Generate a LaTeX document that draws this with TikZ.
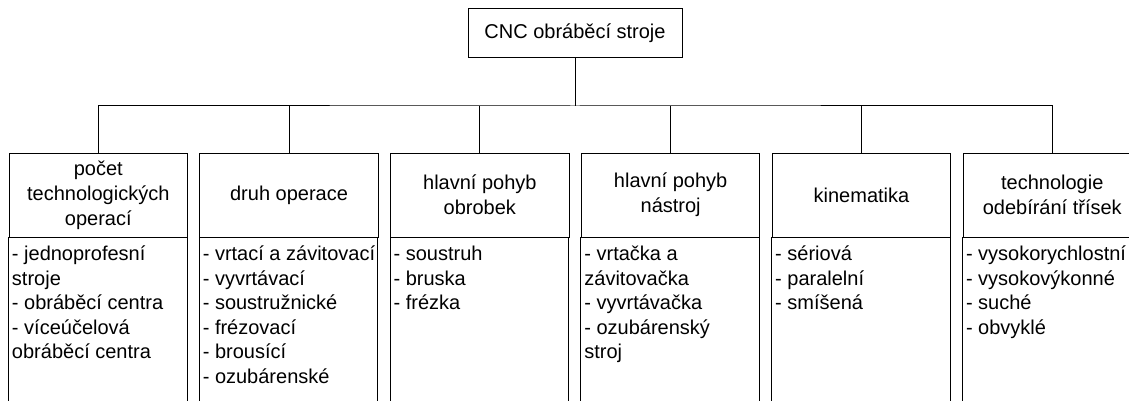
\documentclass[tikz,border=0pt]{standalone}
\usepackage{fontspec}
\setmainfont{Liberation Sans}
\begin{document}
\begin{tikzpicture}[x=1pt,y=-1pt, line width=1pt,
  hdr/.style={draw, rectangle, minimum width=178.5pt, minimum height=84pt, inner sep=0pt, align=center, font=\fontsize{20}{25}\selectfont},
  topbox/.style={draw, rectangle, minimum width=214pt, minimum height=49pt, inner sep=0pt, font=\fontsize{20}{25}\selectfont},
  listtext/.style={anchor=base west, inner sep=0pt, font=\fontsize{20}{24.5}\selectfont},
  bodybox/.style={draw}]
\useasboundingbox (0,0) rectangle (1129,401);
\node[topbox] (top) at (575,33.5) {CNC obráběcí stroje};
\node[hdr] (h1) at (98.25,195) {počet\\technologických\\operací};
\node[hdr] (h2) at (289.05,195) {druh operace};
\node[hdr] (h3) at (479.85,195) {hlavní pohyb\\obrobek};
\node[hdr] (h4) at (670.65,195) {hlavní pohyb\\nástroj};
\node[hdr] (h5) at (861.45,195) {kinematika};
\node[hdr] (h6) at (1052.25,195) {technologie\\odebírání třísek};
\foreach \i in {1,...,6}{
  \draw[bodybox] (h\i.south west) rectangle ++(178.5,200);
}
\coordinate (bus) at (575,106);
\draw (top.south) -- (bus);
\draw (h1.north) |- (bus) -| (h6.north);
\foreach \i in {2,...,5}{
  \draw (h\i.north) -- (h\i.north |- bus);
}
\node[listtext] (l1) at ([xshift=3pt,yshift=-23pt]h1.south west) {\parbox[t]{176pt}{\raggedright - jednoprofesní\\stroje\\- obráběcí centra\\- víceúčelová\\obráběcí centra}};
\node[listtext] (l2) at ([xshift=3pt,yshift=-23pt]h2.south west) {\parbox[t]{176pt}{\raggedright - vrtací a závitovací\\- vyvrtávací\\- soustružnické\\- frézovací\\- brousící\\- ozubárenské}};
\node[listtext] (l3) at ([xshift=3pt,yshift=-23pt]h3.south west) {\parbox[t]{176pt}{\raggedright - soustruh\\- bruska\\- frézka}};
\node[listtext] (l4) at ([xshift=3pt,yshift=-23pt]h4.south west) {\parbox[t]{176pt}{\raggedright - vrtačka a\\závitovačka\\- vyvrtávačka\\- ozubárenský\\stroj}};
\node[listtext] (l5) at ([xshift=3pt,yshift=-23pt]h5.south west) {\parbox[t]{176pt}{\raggedright - sériová\\- paralelní\\- smíšená}};
\node[listtext] (l6) at ([xshift=3pt,yshift=-23pt]h6.south west) {\parbox[t]{176pt}{\raggedright - vysokorychlostní\\- vysokovýkonné\\- suché\\- obvyklé}};
\end{tikzpicture}
\end{document}
